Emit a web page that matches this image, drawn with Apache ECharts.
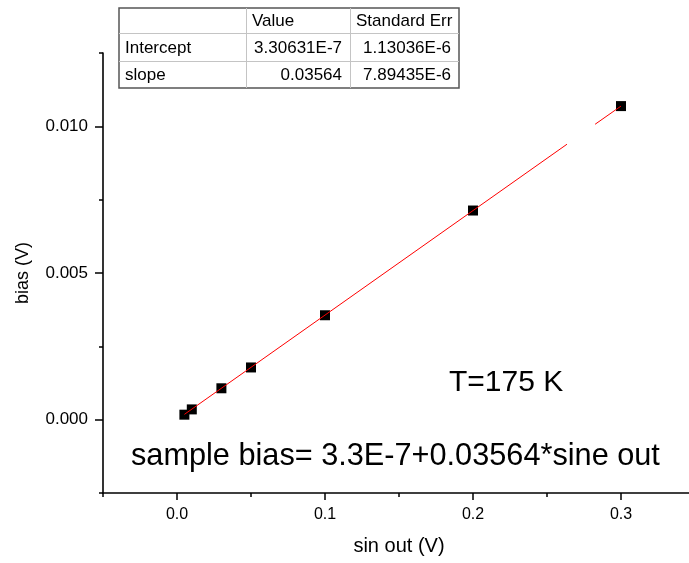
<!DOCTYPE html>
<html>
<head>
<meta charset="utf-8">
<script src="https://cdn.jsdelivr.net/npm/echarts@6/dist/echarts.min.js"></script>
<style>html,body{margin:0;padding:0;background:#fff}#c{width:689px;height:563px}</style>
</head>
<body>
<div id="c"></div>
<script>
// ---- data ----
var pointsX = [0.005, 0.01, 0.03, 0.05, 0.1, 0.2, 0.3];
var pointsY = [0.00017, 0.00035, 0.00107, 0.00178, 0.00356, 0.00713, 0.01069];
var fitX = [0.005, 0.2635, 0.273, 0.2825, 0.3];
var fitY = [0.00018, 0.00939, '-', 0.01007, 0.01069];
var xMajorTicks = [0, 0.1, 0.2, 0.3];
var yMajorTicks = [0, 0.005, 0.010];
var xRange = [-0.05, 0.35];
var yRange = [-0.0025, 0.0125];
var xMinorStep = 0.05;
var yMinorStep = 0.0025;
var xTitle = 'sin out (V)';
var yTitle = 'bias (V)';
var tableHeader = ['', 'Value', 'Standard Err'];
var tableRows = [
  ['Intercept', '3.30631E-7', '1.13036E-6'],
  ['slope', '0.03564', '7.89435E-6']
];
var tempLabel = 'T=175 K';
var equationLabel = 'sample bias= 3.3E-7+0.03564*sine out';

// ---- build ----
var FONT = '"Liberation Sans", Arial, sans-serif';
var scatterData = pointsX.map(function (x, i) { return [x, pointsY[i]]; });
var fitData = fitX.map(function (x, i) { return [x, fitY[i]]; });

var colEdges = [119, 246, 350, 459];
var rowEdges = [8, 33, 61, 88];
var graphics = [];
graphics.push({type:'rect', shape:{x:colEdges[0], y:rowEdges[0], width:colEdges[3]-colEdges[0], height:rowEdges[3]-rowEdges[0]},
  style:{fill:'#fff', stroke:'#555', lineWidth:1.5}, z:10});
for (var r = 1; r < rowEdges.length - 1; r++) {
  graphics.push({type:'line', shape:{x1:colEdges[0], y1:rowEdges[r]+0.5, x2:colEdges[3], y2:rowEdges[r]+0.5}, style:{stroke:'#c4c4c4', lineWidth:1}, z:11});
}
for (var c = 1; c < colEdges.length - 1; c++) {
  graphics.push({type:'line', shape:{x1:colEdges[c]+0.5, y1:rowEdges[0], x2:colEdges[c]+0.5, y2:rowEdges[3]}, style:{stroke:'#c4c4c4', lineWidth:1}, z:11});
}
var allRows = [tableHeader].concat(tableRows);
allRows.forEach(function (row, ri) {
  var cy = (rowEdges[ri] + rowEdges[ri+1]) / 2 + 1;
  row.forEach(function (txt, ci) {
    if (!txt) return;
    var leftAlign = (ri === 0 || ci === 0);
    graphics.push({type:'text', z:12,
      style:{text:txt, x: leftAlign ? colEdges[ci] + 6 : colEdges[ci+1] - 8, y: cy,
        textAlign: leftAlign ? 'left' : 'right', textVerticalAlign:'middle',
        font: '17px ' + FONT, fill:'#000'}});
  });
});
graphics.push({type:'text', z:12, style:{text:tempLabel, x:449, y:398, textAlign:'left', textVerticalAlign:'bottom', font:'30px ' + FONT, fill:'#000'}});
graphics.push({type:'text', z:12, style:{text:equationLabel, x:131, y:472, textAlign:'left', textVerticalAlign:'bottom', font:'30.7px ' + FONT, fill:'#000'}});

var axisLineStyle = {color:'#000', width:1.6};
var chart = echarts.init(document.getElementById('c'), null, {renderer:'canvas'});
chart.setOption({
  animation:false,
  backgroundColor:'#fff',
  grid:{left:103, right:-6, top:53, bottom:70, containLabel:false, outerBoundsMode:'none'},
  xAxis:[
    {type:'value', position:'bottom', min:xRange[0], max:xRange[1], interval:xMinorStep,
      axisLine:{show:true, onZero:false, lineStyle:axisLineStyle},
      axisTick:{show:true, inside:false, length:4, lineStyle:{color:'#000', width:1.5}},
      axisLabel:{show:false}, splitLine:{show:false},
      name:xTitle, nameLocation:'middle', nameGap:43,
      nameTextStyle:{fontFamily:FONT, fontSize:20, color:'#000'}},
    {type:'value', position:'bottom', min:xRange[0], max:xRange[1],
      axisLine:{show:false, onZero:false},
      axisTick:{show:true, inside:false, length:7, customValues:xMajorTicks, lineStyle:{color:'#000', width:1.5}},
      axisLabel:{show:true, customValues:xMajorTicks, margin:14, fontFamily:FONT, fontSize:16, color:'#000',
        formatter:function (v) { return v.toFixed(1); }},
      splitLine:{show:false}}
  ],
  yAxis:[
    {type:'value', position:'left', min:yRange[0], max:yRange[1], interval:yMinorStep,
      axisLine:{show:true, onZero:false, lineStyle:axisLineStyle},
      axisTick:{show:true, inside:false, length:4, lineStyle:{color:'#000', width:1.5}},
      axisLabel:{show:false}, splitLine:{show:false},
      name:yTitle, nameLocation:'middle', nameGap:71, nameRotate:90,
      nameTextStyle:{fontFamily:FONT, fontSize:18, color:'#000'}},
    {type:'value', position:'left', min:yRange[0], max:yRange[1],
      axisLine:{show:false, onZero:false},
      axisTick:{show:true, inside:false, length:8, customValues:yMajorTicks, lineStyle:{color:'#000', width:1.5}},
      axisLabel:{show:true, customValues:yMajorTicks, margin:15, fontFamily:FONT, fontSize:17, color:'#000',
        formatter:function (v) { return v.toFixed(3); }},
      splitLine:{show:false}}
  ],
  series:[
    {type:'scatter', xAxisIndex:0, yAxisIndex:0, data:scatterData, symbol:'rect', symbolSize:10,
      itemStyle:{color:'#000', opacity:1}, z:2},
    {type:'line', xAxisIndex:0, yAxisIndex:0, data:fitData, showSymbol:false, symbol:'none', connectNulls:false,
      lineStyle:{color:'#ff0000', width:1}, z:3}
  ],
  graphic:graphics
});
</script>
</body>
</html>
